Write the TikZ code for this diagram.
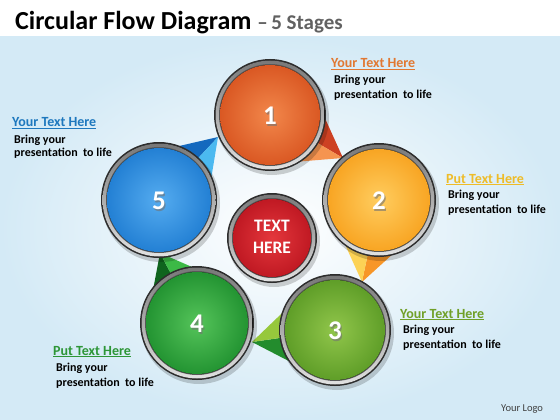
\documentclass[tikz,border=0pt]{standalone}
\usepackage{fontspec}
\setmainfont{Carlito}
\usetikzlibrary{calc}
\definecolor{bgblue}{RGB}{212,234,246}
\definecolor{ringdark}{RGB}{45,45,45}
\definecolor{ringmid}{RGB}{120,120,120}
\definecolor{ringlight}{RGB}{225,225,225}
\definecolor{oneIn}{RGB}{242,135,75}\definecolor{oneOut}{RGB}{218,88,35}
\definecolor{twoIn}{RGB}{255,205,95}\definecolor{twoOut}{RGB}{248,165,35}
\definecolor{thrIn}{RGB}{145,198,75}\definecolor{thrOut}{RGB}{95,158,40}
\definecolor{fouIn}{RGB}{85,196,90}\definecolor{fouOut}{RGB}{35,148,50}
\definecolor{fivIn}{RGB}{85,172,240}\definecolor{fivOut}{RGB}{35,128,212}
\definecolor{cenIn}{RGB}{228,55,60}\definecolor{cenOut}{RGB}{192,25,35}
\definecolor{tOneD}{RGB}{205,65,35}\definecolor{tOneL}{RGB}{245,148,80}
\definecolor{tTwoD}{RGB}{247,150,40}\definecolor{tTwoL}{RGB}{252,210,85}
\definecolor{tThrD}{RGB}{35,140,45}\definecolor{tThrL}{RGB}{150,200,60}
\definecolor{tFouD}{RGB}{15,100,30}\definecolor{tFouL}{RGB}{60,185,70}
\definecolor{tFivD}{RGB}{20,105,190}\definecolor{tFivL}{RGB}{75,185,240}
\definecolor{labOne}{RGB}{225,120,50}
\definecolor{labTwo}{RGB}{238,188,40}
\definecolor{labThr}{RGB}{112,160,40}
\definecolor{labFou}{RGB}{45,150,55}
\definecolor{labFiv}{RGB}{30,120,190}
\newcommand\metalball[5]{%
  \fill[black,opacity=0.18] ($(#2)+(2,3)$) circle (#3+1);
  \fill[ringdark] (#2) circle (#3);
  \fill[top color=ringmid, bottom color=ringlight] (#2) circle (#3-1.5);
  \fill[ringdark!80] (#2) circle (#3-5);
  \fill[inner color=#4, outer color=#5] (#2) circle (#3-6);
  \node[circle, minimum size=2*#3, inner sep=0] (#1) at (#2) {};
}
\newcommand\tailpair[7]{% center, dir, half, radius, tip, dark, light
  \fill[#6] (#1) -- ($(#1)+(#2-#3:#4)$) -- (#5) -- cycle;
  \fill[#7] (#1) -- ($(#1)+(#2+#3:#4)$) -- (#5) -- cycle;
}
\tikzset{
  numtxt/.style={font=\bfseries\fontsize{27}{27}\selectfont, text=white, inner sep=0},
  numshadow/.style={font=\bfseries\fontsize{27}{27}\selectfont, text=black!55, inner sep=0, opacity=0.6},
  headtxt/.style={font=\bfseries\fontsize{14}{14}\selectfont, anchor=base west, inner sep=0},
  bodytxt/.style={font=\bfseries\fontsize{12}{12}\selectfont, anchor=base west, inner sep=0, text=black},
}
\begin{document}
\begin{tikzpicture}[x=1pt,y=-1pt]
\useasboundingbox (0,0) rectangle (560,420);
% background
\fill[white] (0,0) rectangle (560,420);
\fill[inner color=white, outer color=bgblue] (0,37) rectangle (560,420);
% title
\node[anchor=base west, inner sep=0] (title) at (15,30)
  {\fontsize{26}{26}\selectfont\bfseries Circular Flow Diagram \textcolor{black!62}{\fontsize{21}{21}\selectfont –\,5 Stages}};
% centres
\coordinate (p1) at (270,115);
\coordinate (p2) at (379,200);
\coordinate (p3) at (335,330);
\coordinate (p4) at (197,323);
\coordinate (p5) at (159,200);
\coordinate (p0) at (272,238);
% tips
\coordinate (t1) at (343,158);
\coordinate (t2) at (362,282);
\coordinate (t3) at (252,342);
\coordinate (t4) at (160,253);
\coordinate (t5) at (218,137);
% tails
\tailpair{p1}{30.5}{42}{50}{t1}{tOneD}{tOneL}
\tailpair{p2}{101.7}{44}{50}{t2}{tTwoD}{tTwoL}
\tailpair{p3}{171.8}{42}{50}{t3}{tThrD}{tThrL}
\tailpair{p4}{242.1}{42}{50}{t4}{tFouD}{tFouL}
\tailpair{p5}{313.1}{40}{50}{t5}{tFivD}{tFivL}
% balls
\metalball{c1}{p1}{56}{oneIn}{oneOut}
\metalball{c2}{p2}{57}{twoIn}{twoOut}
\metalball{c3}{p3}{56}{thrIn}{thrOut}
\metalball{c4}{p4}{57}{fouIn}{fouOut}
\metalball{c5}{p5}{58}{fivIn}{fivOut}
\metalball{c0}{p0}{45}{cenIn}{cenOut}
% numbers
\foreach \n/\lab in {c1/1,c2/2,c3/3,c4/4,c5/5}{
  \node[numshadow] at ($(\n)+(1.2,2.5)$) {\lab};
  \node[numtxt] (n\n) at ($(\n)+(0,1)$) {\lab};
}
\node[align=center, text=white, font=\bfseries\fontsize{17.5}{22}\selectfont, inner sep=0] (ctext) at ($(c0)+(0,-1)$) {TEXT\\HERE};
% labels
\node[headtxt, text=labOne] (h1) at (331,68) {\underline{Your Text Here}};
\node[bodytxt] (b1a) at (334,84) {Bring your};
\node[bodytxt] (b1b) at (334,99) {presentation\ \ to life};
\node[headtxt, text=labTwo] (h2) at (446,183) {\underline{Put Text Here}};
\node[bodytxt] (b2a) at (448,198) {Bring your};
\node[bodytxt] (b2b) at (448,213) {presentation\ \ to life};
\node[headtxt, text=labThr] (h3) at (400,318) {\underline{Your Text Here}};
\node[bodytxt] (b3a) at (403,333) {Bring your};
\node[bodytxt] (b3b) at (403,348) {presentation\ \ to life};
\node[headtxt, text=labFou] (h4) at (53,355) {\underline{Put Text Here}};
\node[bodytxt] (b4a) at (56,371) {Bring your};
\node[bodytxt] (b4b) at (56,386) {presentation\ \ to life};
\node[headtxt, text=labFiv] (h5) at (12,127) {\underline{Your Text Here}};
\node[bodytxt] (b5a) at (14,143) {Bring your};
\node[bodytxt] (b5b) at (14,157) {presentation\ \ to life};
\node[anchor=base west, inner sep=0, text=black!75, font=\fontsize{10.5}{10.5}\selectfont] (logo) at (501,411) {Your Logo};
\end{tikzpicture}
\end{document}
